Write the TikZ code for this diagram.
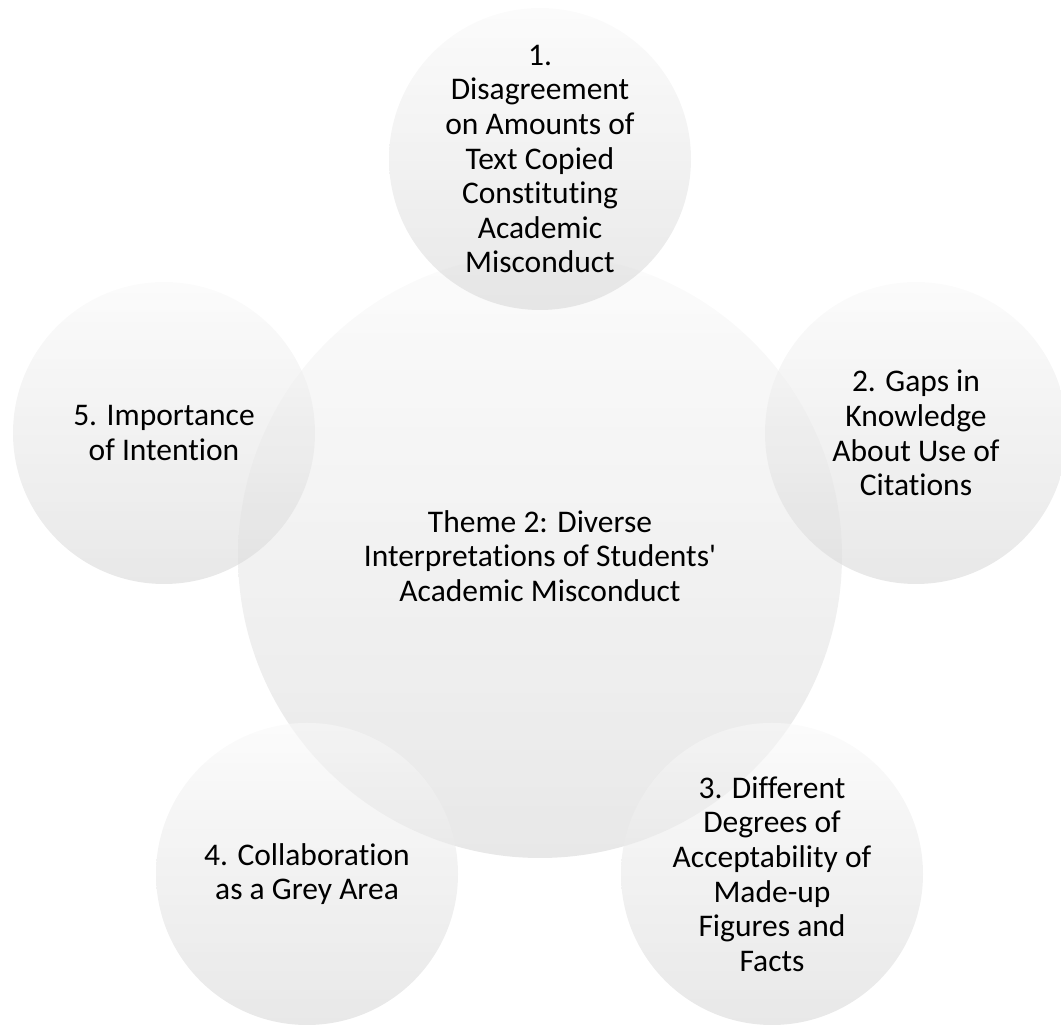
\documentclass[tikz,border=0pt]{standalone}
\usepackage{fontspec}
\setmainfont{Carlito}[Ligatures={TeXOff,NoCommon}]
\usepackage{tikz}

\tikzset{
    bubble/.style={circle, inner sep=0pt, align=center,
        top color=gray!5, bottom color=gray!30,
        fill opacity=0.6, text opacity=1,
        font=\fontsize{31.5}{34.6}\selectfont},
    hub/.style={bubble, minimum size=604pt},
    spoke/.style={bubble, minimum size=302pt},
}

\begin{document}
\begin{tikzpicture}[x=1pt,y=1pt]
    \useasboundingbox (0,0) rectangle (1061,1025);

    % Theme in the middle
    \node[hub] (theme) at (540,469) {Theme 2: Diverse\\Interpretations of Students'\\Academic Misconduct};

    % Sub-themes round it
    \node[spoke] (sub1) at (540,866) {1.\\Disagreement\\on Amounts of\\Text Copied\\Constituting\\Academic\\Misconduct};
    \node[spoke] (sub2) at (916,592) {2. Gaps in\\Knowledge\\About Use of\\Citations};
    \node[spoke] (sub3) at (772,151) {3. Different\\Degrees of\\Acceptability of\\Made-up\\Figures and\\Facts};
    \node[spoke] (sub4) at (307,151) {4. Collaboration\\as a Grey Area};
    \node[spoke] (sub5) at (164,592) {5. Importance\\of Intention};
\end{tikzpicture}
\end{document}
